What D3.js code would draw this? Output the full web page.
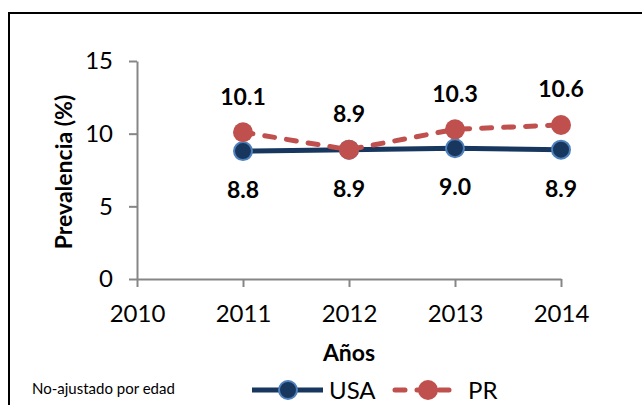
<!DOCTYPE html>
<html>
<head>
<meta charset="utf-8">
<script src="https://cdn.jsdelivr.net/npm/d3@7"></script>
<style>
  body { margin: 0; background: #fff; }
  svg text { font-family: Lato, "Open Sans", sans-serif; fill: #000; }
</style>
</head>
<body>
<svg id="chart" width="642" height="405"></svg>
<script>
// valores
const years = [2011, 2012, 2013, 2014]
const usaValues = [8.8, 8.9, 9.0, 8.9]
const prValues = [10.1, 8.9, 10.3, 10.6]
const xTicks = [2010, 2011, 2012, 2013, 2014]
const yTicks = [0, 5, 10, 15]

const svg = d3.select('#chart')

// borde del area del grafico (se corta a la derecha y abajo)
svg.append('rect')
  .attr('x', 9).attr('y', 13)
  .attr('width', 700).attr('height', 500)
  .attr('fill', '#fff')
  .attr('stroke', '#000')
  .attr('stroke-width', 2)

const xScale = d3.scaleLinear().domain([2010, 2014]).range([137, 561])
const yScale = d3.scaleLinear().domain([0, 15]).range([279, 61])

/**
 * Estilo comun de los ejes
 *
 * @param {*} g seleccion del eje
 */
function styleAxis (g) {
  g.select('.domain').attr('stroke', '#868686').attr('stroke-width', 2)
  g.selectAll('.tick line').attr('stroke', '#868686').attr('stroke-width', 2)
  g.selectAll('.tick text')
    .attr('font-size', 24)
    .attr('font-family', 'Lato, sans-serif')
    .attr('fill', '#000')
}

const yAxis = svg.append('g')
  .attr('transform', 'translate(137,0)')
  .call(d3.axisLeft(yScale).tickValues(yTicks).tickSize(8).tickSizeOuter(0).tickPadding(16))
styleAxis(yAxis)

const xAxis = svg.append('g')
  .attr('transform', 'translate(0,279)')
  .call(d3.axisBottom(xScale).tickValues(xTicks).tickFormat(d3.format('d'))
    .tickSize(8).tickSizeOuter(0).tickPadding(18))
styleAxis(xAxis)

// titulos de ejes
svg.append('text')
  .attr('transform', 'translate(64,172) rotate(-90)')
  .attr('text-anchor', 'middle')
  .attr('dy', '0.35em')
  .attr('font-size', 23)
  .attr('font-weight', 'bold')
  .text('Prevalencia (%)')

svg.append('text')
  .attr('x', 349).attr('y', 353)
  .attr('text-anchor', 'middle')
  .attr('dy', '0.35em')
  .attr('font-size', 23)
  .attr('font-weight', 'bold')
  .text('Años')

const usaData = years.map((y, i) => ({ year: y, value: usaValues[i] }))
const prData = years.map((y, i) => ({ year: y, value: prValues[i] }))

const line = d3.line()
  .x(d => xScale(d.year))
  .y(d => yScale(d.value))

// serie USA
svg.append('path')
  .datum(usaData)
  .attr('d', line)
  .attr('fill', 'none')
  .attr('stroke', '#17375E')
  .attr('stroke-width', 5)

svg.selectAll('.dot-usa')
  .data(usaData)
  .enter()
  .append('circle')
  .attr('class', 'dot-usa')
  .attr('cx', d => xScale(d.year))
  .attr('cy', d => yScale(d.value))
  .attr('r', 9)
  .attr('fill', '#17375E')
  .attr('stroke', '#4F81BD')
  .attr('stroke-width', 2)

// serie PR
svg.append('path')
  .datum(prData)
  .attr('d', line)
  .attr('fill', 'none')
  .attr('stroke', '#C0504D')
  .attr('stroke-width', 5)
  .attr('stroke-linecap', 'round')
  .attr('stroke-dasharray', '10 12')

svg.selectAll('.dot-pr')
  .data(prData)
  .enter()
  .append('circle')
  .attr('class', 'dot-pr')
  .attr('cx', d => xScale(d.year))
  .attr('cy', d => yScale(d.value))
  .attr('r', 10)
  .attr('fill', '#C0504D')

// etiquetas de datos
svg.selectAll('.lbl-pr')
  .data(prData)
  .enter()
  .append('text')
  .attr('class', 'lbl-pr')
  .attr('x', d => xScale(d.year))
  .attr('y', d => yScale(d.value) - 35.5)
  .attr('dy', '0.35em')
  .attr('text-anchor', 'middle')
  .attr('font-size', 23)
  .attr('font-weight', 'bold')
  .text(d => d3.format('.1f')(d.value))

svg.selectAll('.lbl-usa')
  .data(usaData)
  .enter()
  .append('text')
  .attr('class', 'lbl-usa')
  .attr('x', d => xScale(d.year))
  .attr('y', d => yScale(d.value) + 39)
  .attr('dy', '0.35em')
  .attr('text-anchor', 'middle')
  .attr('font-size', 23)
  .attr('font-weight', 'bold')
  .text(d => d3.format('.1f')(d.value))

// nota
svg.append('text')
  .attr('x', 32).attr('y', 394)
  .attr('font-size', 15)
  .text('No-ajustado por edad')

// leyenda
const legY = 390
const legend = svg.append('g')
legend.append('line')
  .attr('x1', 252).attr('x2', 323).attr('y1', legY).attr('y2', legY)
  .attr('stroke', '#17375E').attr('stroke-width', 5)
legend.append('circle')
  .attr('cx', 288).attr('cy', legY).attr('r', 9)
  .attr('fill', '#17375E').attr('stroke', '#4F81BD').attr('stroke-width', 2)
legend.append('text')
  .attr('x', 329).attr('y', legY).attr('dy', '0.36em')
  .attr('font-size', 24)
  .text('USA')

legend.append('line')
  .attr('x1', 395).attr('x2', 455).attr('y1', legY).attr('y2', legY)
  .attr('stroke', '#C0504D').attr('stroke-width', 5)
  .attr('stroke-linecap', 'round')
  .attr('stroke-dasharray', '10 12')
legend.append('circle')
  .attr('cx', 428).attr('cy', legY).attr('r', 10)
  .attr('fill', '#C0504D')
legend.append('text')
  .attr('x', 468).attr('y', legY).attr('dy', '0.36em')
  .attr('font-size', 24)
  .text('PR')
</script>
</body>
</html>
